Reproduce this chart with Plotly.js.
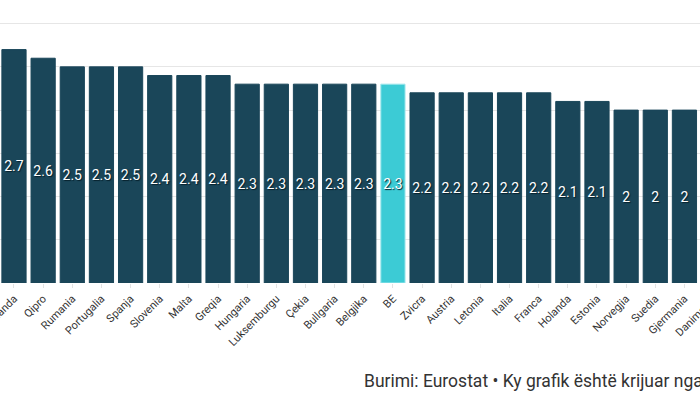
<!DOCTYPE html>
<html>
<head>
<meta charset="utf-8">
<script src="https://cdn.plot.ly/plotly-3.0.1.min.js"></script>
<style>html,body{margin:0;padding:0;background:#fff;overflow:hidden;width:700px;height:398px;}#chart{width:720px;height:398px;}</style>
</head>
<body>
<div id="chart"></div>
<script>
const countries = ["Irlanda","Qipro","Rumania","Portugalia","Spanja","Slovenia","Malta","Greqia","Hungaria","Luksemburgu","Çekia","Bullgaria","Belgjika","BE","Zvicra","Austria","Letonia","Italia","Franca","Holanda","Estonia","Norvegjia","Suedia","Gjermania","Danimarka"];
const values = [2.7,2.6,2.5,2.5,2.5,2.4,2.4,2.4,2.3,2.3,2.3,2.3,2.3,2.3,2.2,2.2,2.2,2.2,2.2,2.1,2.1,2.0,2.0,2.0,2.0];
const highlight = "BE";
const sourceText = "Burimi: Eurostat • Ky grafik është krijuar nga";

const colors = countries.map(c => c === highlight ? "#3ccbd5" : "#1a4659");
const lineColors = countries.map(c => c === highlight ? "#9fe6ec" : "#1a4659");

const W = 720;
const trace = {
  type: "bar",
  x: countries,
  y: values,
  text: values.map(v => String(v)),
  textposition: "inside",
  insidetextanchor: "middle",
  textangle: 0,
  constraintext: "none",
  textfont: {family: "Roboto, sans-serif", size: 14, color: "#ffffff", shadow: "1px 1px 1px #06202b"},
  marker: {color: colors, line: {color: lineColors, width: 1}},
  width: 0.83,
  hoverinfo: "none"
};

const layout = {
  width: W, height: 398,
  margin: {l: 0, r: 0, t: 15, b: 115},
  paper_bgcolor: "#ffffff",
  plot_bgcolor: "#ffffff",
  showlegend: false,
  xaxis: {
    type: "category",
    range: [-0.48, -0.48 + W / 29.15],
    tickangle: -45,
    tickfont: {family: "Roboto, sans-serif", size: 11, color: "#333333"},
    ticks: "outside", ticklen: 4, tickcolor: "#e3e3e3",
    showline: false, showgrid: false, zeroline: false,
    automargin: false
  },
  yaxis: {
    range: [0, 3.1],
    dtick: 0.5,
    showticklabels: false,
    showgrid: true, gridcolor: "#e6e6e6", gridwidth: 1,
    zeroline: false, showline: false,
    automargin: false
  },
  annotations: [{
    text: sourceText,
    xref: "paper", yref: "paper",
    x: 362 / W, y: -(381 - 283) / 268,
    xanchor: "left", yanchor: "middle",
    showarrow: false,
    font: {family: "Roboto, sans-serif", size: 17.5, color: "#333333"}
  }]
};

Plotly.newPlot("chart", [trace], layout, {displayModeBar: false, staticPlot: true});
</script>
</body>
</html>
